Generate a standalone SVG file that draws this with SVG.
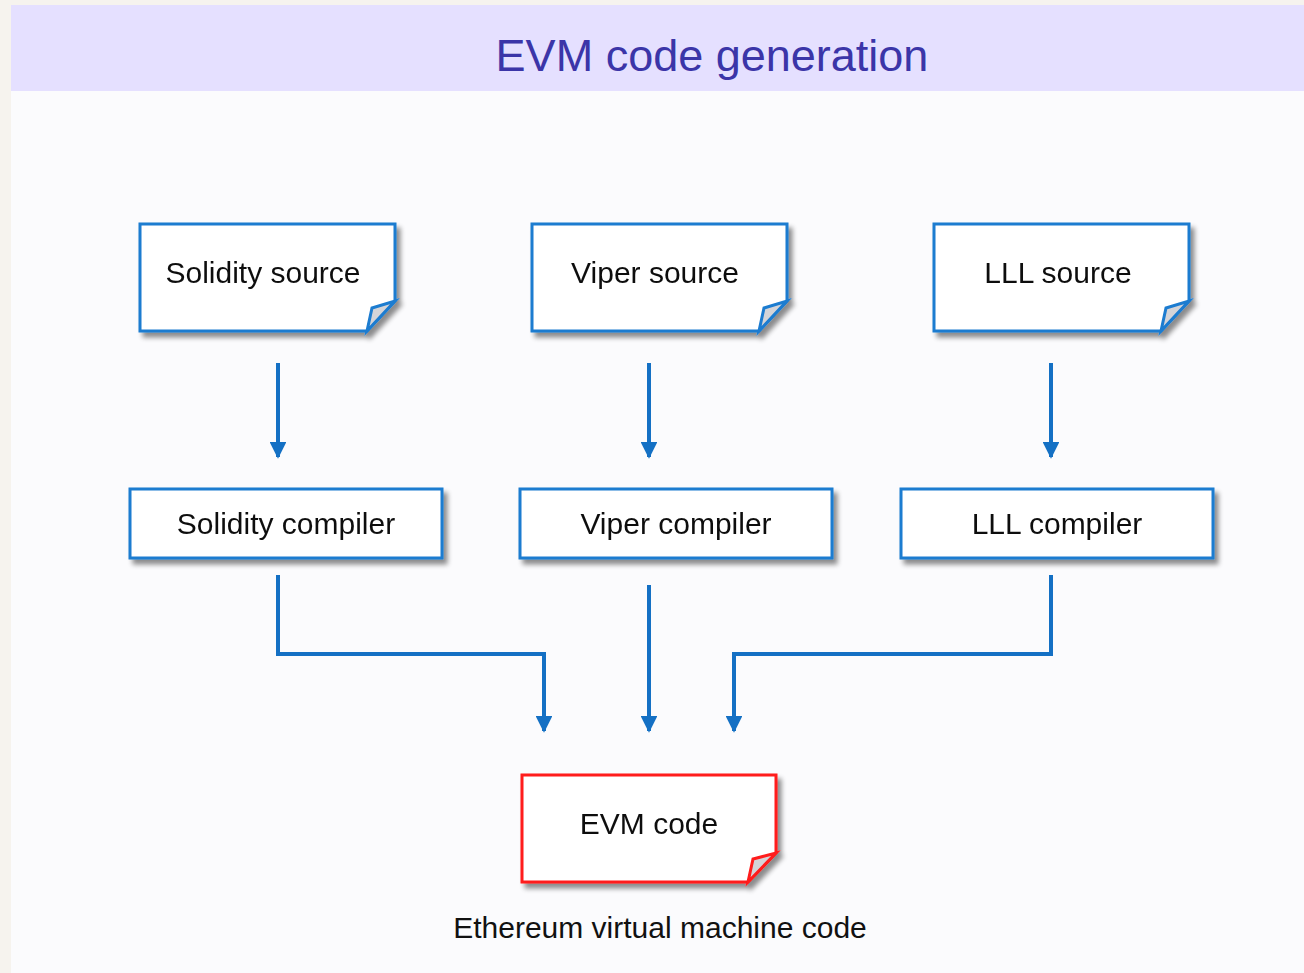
<svg xmlns="http://www.w3.org/2000/svg" width="1304" height="973" viewBox="0 0 1304 973">
  <defs>
    <filter id="shadow" x="-10%" y="-10%" width="130%" height="140%">
      <feGaussianBlur in="SourceAlpha" stdDeviation="2.5"/>
      <feOffset dx="4" dy="5" result="b"/>
      <feComponentTransfer><feFuncA type="linear" slope="0.45"/></feComponentTransfer>
      <feMerge><feMergeNode/><feMergeNode in="SourceGraphic"/></feMerge>
    </filter>
    <marker id="arrow" viewBox="0 0 10 10" refX="9" refY="5" markerWidth="4.2" markerHeight="4.2" markerUnits="strokeWidth" orient="auto">
      <path d="M0,0 L10,5 L0,10 Z" fill="#1470c4"/>
    </marker>
    <style>
      .note { fill: #ffffff; stroke: #1b7bd0; stroke-width: 3; stroke-linejoin: miter; }
      .note.red { stroke: #ff1a1a; }
      .fold { fill: #d4d4d8; stroke: #1b7bd0; stroke-width: 3; stroke-linejoin: miter; }
      .fold.red { stroke: #ff1a1a; }
      .box { fill: #ffffff; stroke: #1b7bd0; stroke-width: 3; }
      .label { font-family: "Liberation Sans", Arial, sans-serif; font-size: 30px; fill: #111111; text-anchor: middle; }
      .title { font-family: "Liberation Sans", Arial, sans-serif; font-size: 45px; fill: #3b35a8; text-anchor: middle; }
      .edge { fill: none; stroke: #1470c4; stroke-width: 4; marker-end: url(#arrow); }
    </style>
  </defs>

  <!-- page background -->
  <rect x="0" y="0" width="1304" height="973" fill="#f6f3ee"/>
  <rect x="11" y="5" width="1293" height="968" fill="#fbfbfd"/>
  <rect x="11" y="5" width="1293" height="86" fill="#e5e0ff"/>
  <text class="title" x="712" y="71">EVM code generation</text>

  <!-- sources -->
  <g id="solidity-source" filter="url(#shadow)">
    <path class="note" d="M140,224 L395,224 L395,301 L367,331 L140,331 Z"/>
    <path class="fold" d="M367,331 L372,308 L395,301 Z"/>
    <text class="label" x="263" y="283">Solidity source</text>
  </g>
  <g id="viper-source" filter="url(#shadow)">
    <path class="note" d="M532,224 L787,224 L787,301 L759,331 L532,331 Z"/>
    <path class="fold" d="M759,331 L764,308 L787,301 Z"/>
    <text class="label" x="655" y="283">Viper source</text>
  </g>
  <g id="lll-source" filter="url(#shadow)">
    <path class="note" d="M934,224 L1189,224 L1189,301 L1161,331 L934,331 Z"/>
    <path class="fold" d="M1161,331 L1166,308 L1189,301 Z"/>
    <text class="label" x="1058" y="283">LLL source</text>
  </g>

  <!-- compilers -->
  <g id="solidity-compiler" filter="url(#shadow)">
    <rect class="box" x="130" y="489" width="312" height="69"/>
    <text class="label" x="286" y="534">Solidity compiler</text>
  </g>
  <g id="viper-compiler" filter="url(#shadow)">
    <rect class="box" x="520" y="489" width="312" height="69"/>
    <text class="label" x="676" y="534">Viper compiler</text>
  </g>
  <g id="lll-compiler" filter="url(#shadow)">
    <rect class="box" x="901" y="489" width="312" height="69"/>
    <text class="label" x="1057" y="534">LLL compiler</text>
  </g>

  <!-- output -->
  <g id="evm-code" filter="url(#shadow)">
    <path class="note red" d="M522,775 L776,775 L776,853 L748,882 L522,882 Z"/>
    <path class="fold red" d="M748,882 L753,859 L776,853 Z"/>
    <text class="label" x="649" y="834">EVM code</text>
  </g>
  <text class="label" x="660" y="938">Ethereum virtual machine code</text>

  <!-- connectors -->
  <g id="connectors">
    <path class="edge" d="M278,363 L278,457"/>
    <path class="edge" d="M649,363 L649,457"/>
    <path class="edge" d="M1051,363 L1051,457"/>
    <path class="edge" d="M278,575 L278,654 L544,654 L544,731"/>
    <path class="edge" d="M649,585 L649,731"/>
    <path class="edge" d="M1051,575 L1051,654 L734,654 L734,731"/>
  </g>
</svg>
